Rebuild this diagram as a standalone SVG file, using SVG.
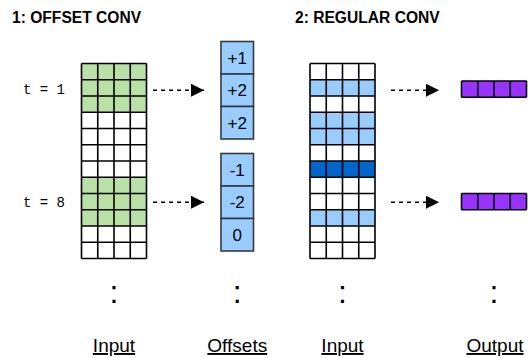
<svg xmlns="http://www.w3.org/2000/svg" width="530" height="358" viewBox="0 0 530 358">
<style>
.title{font-family:"Liberation Sans",Arial,sans-serif;font-weight:bold;font-size:15.6px;fill:#000}
.tl{font-family:"Liberation Mono","Courier New",monospace;font-size:14px;fill:#000}
.off{font-family:"Liberation Sans",Arial,sans-serif;font-size:17px;fill:#000;text-anchor:middle}
.lbl{font-family:"Liberation Sans",Arial,sans-serif;font-size:19px;fill:#000;text-anchor:middle;text-decoration:underline}
.dots{font-family:"Liberation Sans",Arial,sans-serif;font-size:32px;fill:#000;text-anchor:middle}
.grid{stroke:#000;stroke-width:1.6;fill:none}
.g{fill:#b9e0a5}
.lb{fill:#99ccff}
.db{fill:#0066cc}
.w{fill:#fff}
.pu{fill:#9933ff}
.obox{fill:#99ccff;stroke:#36393d;stroke-width:1.6}
.conn{stroke:#000;stroke-width:1.5;stroke-dasharray:4 4;fill:none}
</style>
<defs>
<marker id="ah" markerWidth="14" markerHeight="14" refX="13" refY="6.5" orient="auto" markerUnits="userSpaceOnUse">
<path d="M0,0 L13,6.5 L0,13 z" fill="#000"/>
</marker>
</defs>

<g id="titles">
<text class="title" x="12" y="22.7">1: OFFSET CONV</text>
<text class="title" x="295" y="22.7">2: REGULAR CONV</text>
</g>

<g id="time-labels">
<text class="tl" x="23" y="93.5">t = 1</text>
<text class="tl" x="23" y="206.5">t = 8</text>
</g>

<g id="input-grid-1">
<rect class="g" x="81.5" y="63.5" width="65" height="48.75"/>
<rect class="w" x="81.5" y="112.25" width="65" height="65"/>
<rect class="g" x="81.5" y="177.25" width="65" height="48.75"/>
<rect class="w" x="81.5" y="226" width="65" height="32.5"/>
<path class="grid" d="M81.5,63.5V258.5M97.75,63.5V258.5M114,63.5V258.5M130.25,63.5V258.5M146.5,63.5V258.5
M81.5,63.5H146.5M81.5,79.75H146.5M81.5,96H146.5M81.5,112.25H146.5M81.5,128.5H146.5M81.5,144.75H146.5M81.5,161H146.5M81.5,177.25H146.5M81.5,193.5H146.5M81.5,209.75H146.5M81.5,226H146.5M81.5,242.25H146.5M81.5,258.5H146.5"/>
</g>

<g id="offsets-1">
<rect class="obox" x="221" y="41.5" width="32.5" height="32.5"/>
<rect class="obox" x="221" y="74" width="32.5" height="32.5"/>
<rect class="obox" x="221" y="106.5" width="32.5" height="32.5"/>
<text class="off" x="237.25" y="63.8">+1</text>
<text class="off" x="237.25" y="96.3">+2</text>
<text class="off" x="237.25" y="128.8">+2</text>
</g>

<g id="offsets-8">
<rect class="obox" x="221" y="153.5" width="32.5" height="32.5"/>
<rect class="obox" x="221" y="186" width="32.5" height="32.5"/>
<rect class="obox" x="221" y="218.5" width="32.5" height="32.5"/>
<text class="off" x="237.25" y="175.8">-1</text>
<text class="off" x="237.25" y="208.3">-2</text>
<text class="off" x="237.25" y="240.8">0</text>
</g>

<g id="input-grid-2">
<rect class="w" x="310" y="63.5" width="65" height="195"/>
<rect class="lb" x="310" y="79.75" width="65" height="16.25"/>
<rect class="lb" x="310" y="112.25" width="65" height="32.5"/>
<rect class="db" x="310" y="161" width="65" height="16.25"/>
<rect class="lb" x="310" y="209.75" width="65" height="16.25"/>
<path class="grid" d="M310,63.5V258.5M326.25,63.5V258.5M342.5,63.5V258.5M358.75,63.5V258.5M375,63.5V258.5
M310,63.5H375M310,79.75H375M310,96H375M310,112.25H375M310,128.5H375M310,144.75H375M310,161H375M310,177.25H375M310,193.5H375M310,209.75H375M310,226H375M310,242.25H375M310,258.5H375"/>
</g>

<g id="output-1">
<rect class="pu" x="461.5" y="81" width="65" height="16.25"/>
<path class="grid" d="M461.5,81V97.25M477.75,81V97.25M494,81V97.25M510.25,81V97.25M526.5,81V97.25M461.5,81H526.5M461.5,97.25H526.5"/>
</g>

<g id="output-8">
<rect class="pu" x="461.5" y="193.5" width="65" height="16.25"/>
<path class="grid" d="M461.5,193.5V209.75M477.75,193.5V209.75M494,193.5V209.75M510.25,193.5V209.75M526.5,193.5V209.75M461.5,193.5H526.5M461.5,209.75H526.5"/>
</g>

<g id="connectors">
<line class="conn" x1="153" y1="90.25" x2="204" y2="90.25" marker-end="url(#ah)"/>
<line class="conn" x1="153" y1="202.25" x2="204" y2="202.25" marker-end="url(#ah)"/>
<line class="conn" x1="391" y1="90.25" x2="439" y2="90.25" marker-end="url(#ah)"/>
<line class="conn" x1="391" y1="202.25" x2="439" y2="202.25" marker-end="url(#ah)"/>
</g>

<g id="ellipses">
<text class="dots" x="114" y="303">:</text>
<text class="dots" x="237.25" y="303">:</text>
<text class="dots" x="342.5" y="303">:</text>
<text class="dots" x="494" y="303">:</text>
</g>

<g id="labels">
<text class="lbl" x="114" y="352">Input</text>
<text class="lbl" x="237.25" y="352">Offsets</text>
<text class="lbl" x="342.5" y="352">Input</text>
<text class="lbl" x="495" y="352">Output</text>
</g>
</svg>
